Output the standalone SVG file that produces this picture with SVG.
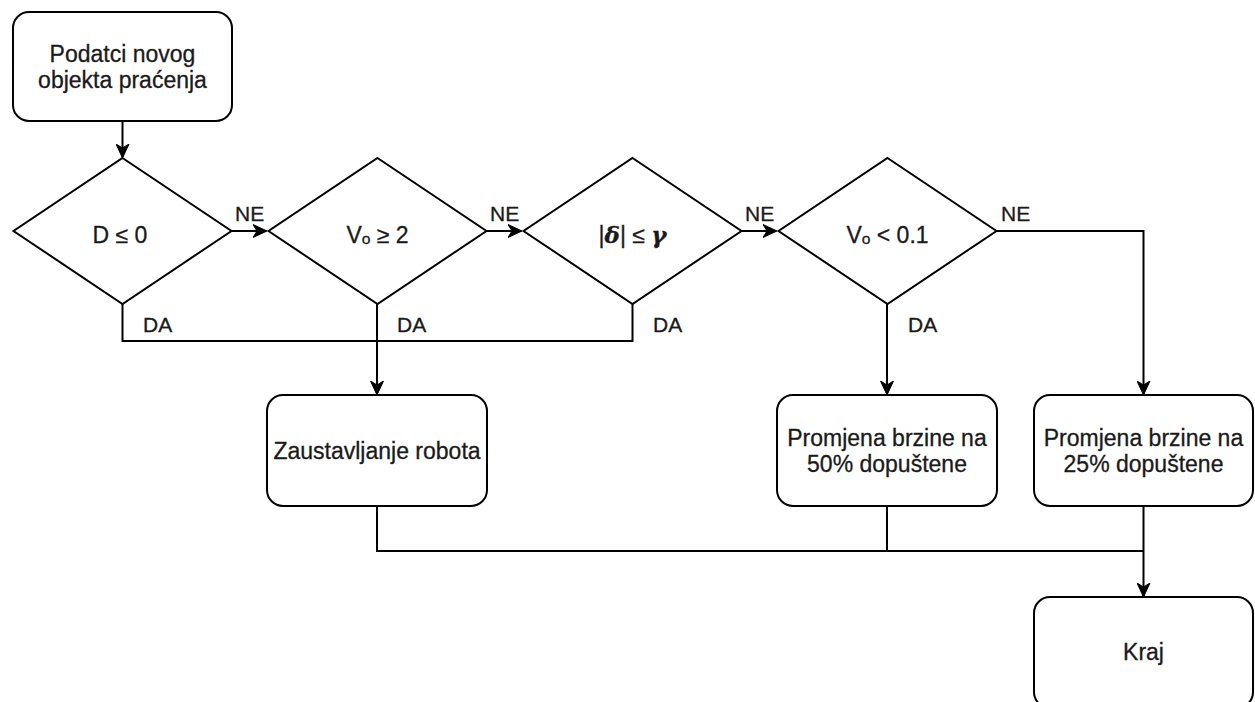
<svg xmlns="http://www.w3.org/2000/svg" width="1255" height="702" viewBox="0 0 1255 702">
<style>
.shape{fill:#fff;stroke:#000;stroke-width:2}
.edge{fill:none;stroke:#000;stroke-width:2}
.arr{marker-end:url(#arrow)}
.t{font-family:"Liberation Sans",Arial,sans-serif;font-size:23px;fill:#1a1a1a;stroke:#1a1a1a;stroke-width:0.3;text-anchor:middle}
.lbl{font-family:"Liberation Sans",Arial,sans-serif;font-size:21px;fill:#1a1a1a;stroke:#1a1a1a;stroke-width:0.3}
.gr{font-style:italic;font-weight:bold;font-family:"DejaVu Serif","Liberation Serif",serif}
</style>
<defs>
<marker id="arrow" markerUnits="userSpaceOnUse" markerWidth="14" markerHeight="14" viewBox="0 0 14 14" refX="13" refY="7" orient="auto">
<path d="M0,0.5 L14,7 L0,13.5 L4,7 z" fill="#000" stroke="#000" stroke-width="1"/>
</marker>
</defs>
<rect width="1255" height="702" fill="#fff"/>
<g id="connectors">
<path class="edge arr" d="M122.5,121 L122.5,157"/>
<path class="edge arr" d="M231,231 L266,231"/>
<path class="edge arr" d="M486,231 L521,231"/>
<path class="edge arr" d="M741,231 L776,231"/>
<path class="edge" d="M122.5,304 L122.5,341 L377,341"/>
<path class="edge" d="M632.5,304 L632.5,341 L377,341"/>
<path class="edge arr" d="M377,304 L377,394"/>
<path class="edge arr" d="M887,304 L887,394"/>
<path class="edge arr" d="M996,231 L1143.5,231 L1143.5,394"/>
<path class="edge" d="M377,506 L377,551 L1143.5,551"/>
<path class="edge" d="M887,506 L887,551"/>
<path class="edge arr" d="M1143.5,506 L1143.5,596"/>
<text class="lbl" x="235" y="221">NE</text>
<text class="lbl" x="490" y="221">NE</text>
<text class="lbl" x="745" y="221">NE</text>
<text class="lbl" x="1001" y="221">NE</text>
<text class="lbl" x="143" y="332">DA</text>
<text class="lbl" x="397" y="332">DA</text>
<text class="lbl" x="653" y="332">DA</text>
<text class="lbl" x="908" y="332">DA</text>
</g>
<g id="start">
<rect class="shape" x="13" y="12" width="219" height="109" rx="16"/>
<text class="t" x="122.5" y="62">Podatci novog</text>
<text class="t" x="122.5" y="88">objekta praćenja</text>
</g>
<g id="d1">
<path class="shape" d="M122.5,158 L231.5,231 L122.5,304 L13.5,231 Z"/>
<text class="t" x="120" y="243">D ≤ 0</text>
</g>
<g id="d2">
<path class="shape" d="M377.5,158 L486.5,231 L377.5,304 L268.5,231 Z"/>
<text class="t" x="377.5" y="243">Vₒ ≥ 2</text>
</g>
<g id="d3">
<path class="shape" d="M632.5,158 L741.5,231 L632.5,304 L523.5,231 Z"/>
<text class="t" x="632.5" y="243">|<tspan class="gr">δ</tspan>| ≤ <tspan class="gr">γ</tspan></text>
</g>
<g id="d4">
<path class="shape" d="M887.5,158 L996.5,231 L887.5,304 L778.5,231 Z"/>
<text class="t" x="887.5" y="243">Vₒ &lt; 0.1</text>
</g>
<g id="stop">
<rect class="shape" x="267" y="395" width="220" height="111" rx="16"/>
<text class="t" x="377" y="459">Zaustavljanje robota</text>
</g>
<g id="speed50">
<rect class="shape" x="777" y="395" width="220" height="111" rx="16"/>
<text class="t" x="887" y="446">Promjena brzine na</text>
<text class="t" x="887" y="472">50% dopuštene</text>
</g>
<g id="speed25">
<rect class="shape" x="1034" y="395" width="219" height="111" rx="16"/>
<text class="t" x="1143.5" y="446">Promjena brzine na</text>
<text class="t" x="1143.5" y="472">25% dopuštene</text>
</g>
<g id="end">
<rect class="shape" x="1034" y="597" width="219" height="111" rx="16"/>
<text class="t" x="1143.5" y="660">Kraj</text>
</g>
</svg>
